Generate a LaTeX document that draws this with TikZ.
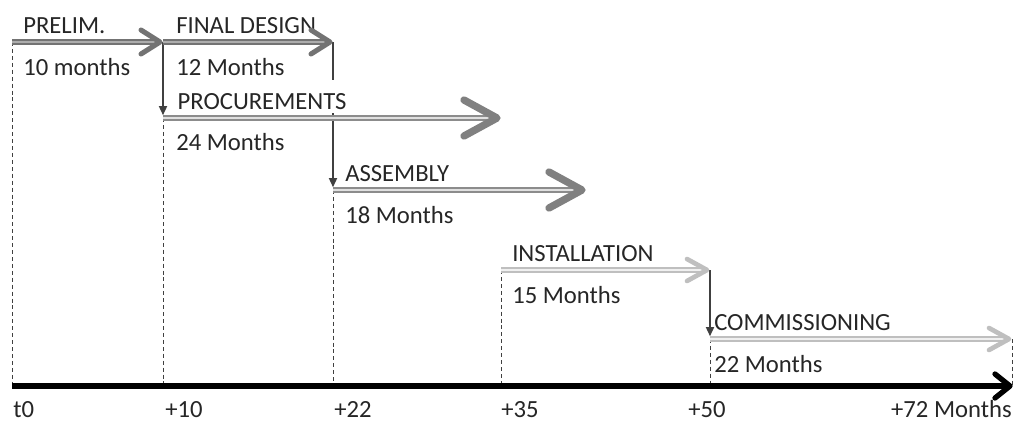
\documentclass[tikz,border=0pt]{standalone}
\usepackage{fontspec}
\setmainfont{Carlito}
\usetikzlibrary{arrows.meta}
\newcommand\chevtip[4]{\draw[#1] ([shift={(-#3,-#4)}]#2) -- (#2) -- ([shift={(-#3,#4)}]#2);}
\begin{document}
\begin{tikzpicture}[x=0.75pt,y=-0.75pt,
  lbl/.style={font=\fontsize{18.5}{22}\selectfont, text=black!85, inner sep=0pt, anchor=base west},
  guide/.style={draw=black!75, line width=0.75pt, dash pattern=on 3pt off 2.2pt},
  link/.style={draw=black!75, line width=1.5pt, -{Triangle[length=7pt,width=6pt]}, shorten >=2pt},
  shaftA/.style={draw=black!55, double=black!32, line width=1.6pt, double distance=1.2pt},
  headA/.style={draw=black!55, line width=3.8pt, line cap=round, line join=round},
  shaftB/.style={draw=black!45, double=black!12, line width=1.2pt, double distance=1.6pt},
  headB/.style={draw=black!50, line width=5.5pt, line cap=round, line join=round},
  shaftC/.style={draw=black!25, double=black!6, line width=1.1pt, double distance=1.6pt},
  headC/.style={draw=black!25, line width=3.5pt, line cap=round, line join=round},
  axisline/.style={draw=black, line width=4.5pt},
  headK/.style={draw=black, line width=4pt, line cap=round, line join=round}]
\useasboundingbox (0,0) rectangle (1016,425);
% coordinates
\coordinate (t0top) at (12,42);
\coordinate (t0bot) at (12,386);
\coordinate (t10top) at (163,42);
\coordinate (t10mid) at (163,118);
\coordinate (t10bot) at (163,386);
\coordinate (t22top) at (333,42);
\coordinate (t22mid) at (333,190);
\coordinate (t22bot) at (333,386);
\coordinate (t35mid) at (501,270);
\coordinate (t35bot) at (501,386);
\coordinate (t50top) at (710,270);
\coordinate (t50mid) at (710,339);
\coordinate (t50bot) at (710,386);
\coordinate (t72mid) at (1012,339);
\coordinate (t72bot) at (1012,386);
\coordinate (prelimtip) at (160,42);
\coordinate (finaltip) at (330,42);
\coordinate (proctip) at (497,118);
\coordinate (asmtip) at (582,190);
\coordinate (insttip) at (707,270);
\coordinate (commtip) at (1009,339);
\coordinate (axtip) at (1010,386);
% dashed guides
\draw[guide] (t0top) -- (t0bot);
\draw[guide] (t10mid) -- (t10bot);
\draw[guide] (t22mid) -- (t22bot);
\draw[guide] (t35mid) -- (t35bot);
\draw[guide] (t50mid) -- (t50bot);
\draw[guide] (t72mid) -- (t72bot);
% dependency links
\draw[link] (t10top) -- (t10mid);
\draw[link] (t22top) -- (t22mid);
\draw[link] (t50top) -- (t50mid);
% labels
\node[lbl, fill=white, inner xsep=1pt, text height=21.7pt, text depth=3pt] (lproc) at (176,109) {PROCUREMENTS};
\node[lbl] (lprelim) at (23,33) {PRELIM.};
\node[lbl] (dprelim) at (23,75) {10 months};
\node[lbl] (lfinal) at (176,33) {FINAL DESIGN};
\node[lbl] (dfinal) at (176,75) {12 Months};
\node[lbl] (dproc) at (176,150) {24 Months};
\node[lbl] (lasm) at (345,181) {ASSEMBLY};
\node[lbl] (dasm) at (345,223) {18 Months};
\node[lbl] (linst) at (512,261) {INSTALLATION};
\node[lbl] (dinst) at (512,303) {15 Months};
\node[lbl] (lcomm) at (714,330) {COMMISSIONING};
\node[lbl] (dcomm) at (714,372) {22 Months};
\node[lbl] (a0) at (13,417) {t0};
\node[lbl] (a10) at (165,417) {+10};
\node[lbl] (a22) at (334,417) {+22};
\node[lbl] (a35) at (501,417) {+35};
\node[lbl] (a50) at (688,417) {+50};
\node[lbl, anchor=base east] (a72) at (1012,417) {+72 Months};
% shafts
\draw[shaftA] (t0top) -- ([xshift=-2]prelimtip);
\draw[shaftA] (t10top) -- ([xshift=-2]finaltip);
\draw[shaftB] (t10mid) -- ([xshift=-3]proctip);
\draw[shaftB] (t22mid) -- ([xshift=-3]asmtip);
\draw[shaftC] (t35mid) -- ([xshift=-2]insttip);
\draw[shaftC] (t50mid) -- ([xshift=-2]commtip);
\draw[axisline] (t0bot) -- ([xshift=-3]axtip);
% heads
\chevtip{headA}{prelimtip}{19}{12}
\chevtip{headA}{finaltip}{19}{12}
\chevtip{headB}{proctip}{33}{18}
\chevtip{headB}{asmtip}{33}{18}
\chevtip{headC}{insttip}{20}{11}
\chevtip{headC}{commtip}{20}{11}
\chevtip{headK}{axtip}{15}{12}
\end{tikzpicture}
\end{document}
